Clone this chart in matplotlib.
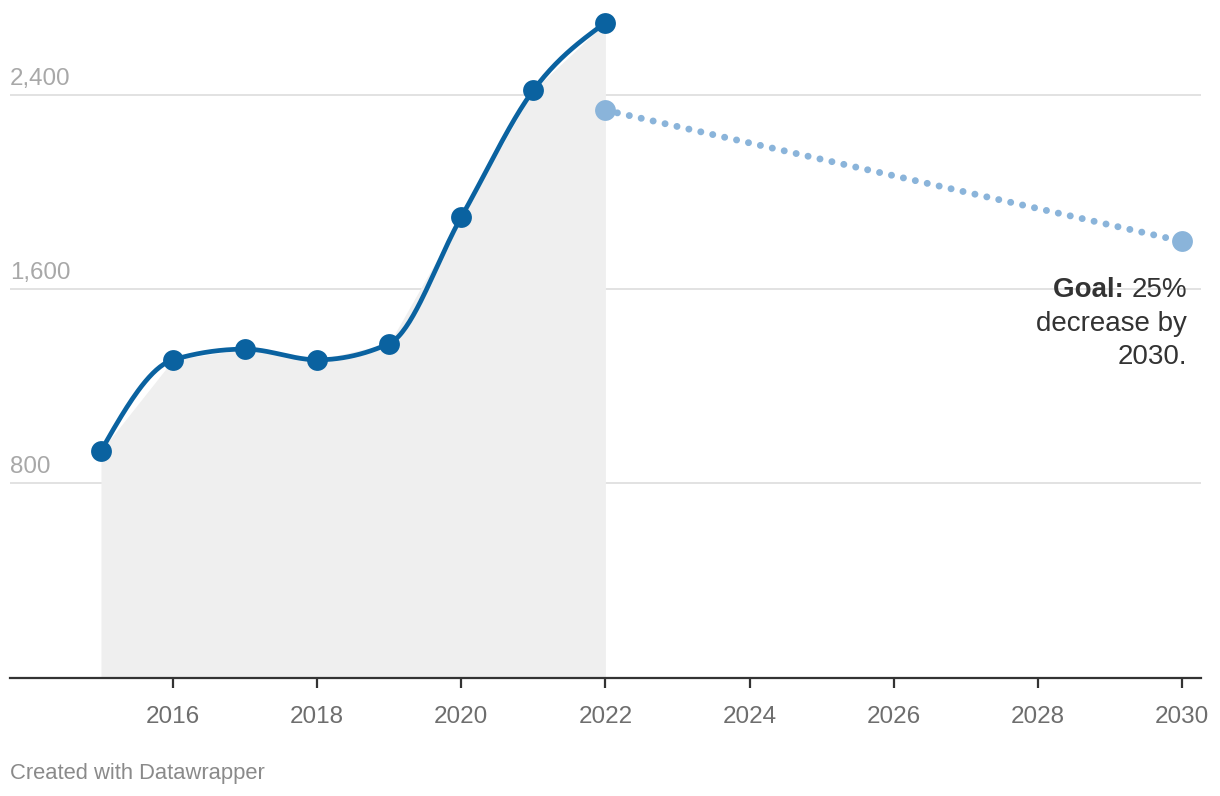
import numpy as np
import matplotlib
matplotlib.use("Agg")
import matplotlib.pyplot as plt

plt.rcParams['font.family'] = ['Liberation Sans', 'DejaVu Sans']

# data
years = [2015, 2016, 2017, 2018, 2019, 2020, 2021, 2022]
values = [933, 1308, 1352, 1308, 1375, 1896, 2418, 2696]
goal_years = [2022, 2030]
goal_values = [2336, 1796]
y_ticks = [800, 1600, 2400]
x_ticks = [2016, 2018, 2020, 2022, 2024, 2026, 2028, 2030]

LINE = '#0a62a0'
GOAL = '#8ab4da'


def monotone(x, y, n=40):
    # monotone-x curve (same slopes as d3.curveMonotoneX)
    x = np.asarray(x, float)
    y = np.asarray(y, float)
    h = np.diff(x)
    d = np.diff(y) / h
    m = np.zeros_like(y)
    for i in range(1, len(y) - 1):
        p = (d[i - 1] * h[i] + d[i] * h[i - 1]) / (h[i - 1] + h[i])
        m[i] = (np.sign(d[i - 1]) + np.sign(d[i])) * min(abs(d[i - 1]), abs(d[i]), 0.5 * abs(p))
    m[0] = (3 * d[0] - m[1]) / 2
    m[-1] = (3 * d[-1] - m[-2]) / 2
    xs, ys = [], []
    for i in range(len(x) - 1):
        t = np.linspace(0, 1, n)
        h00 = 2 * t**3 - 3 * t**2 + 1
        h10 = t**3 - 2 * t**2 + t
        h01 = -2 * t**3 + 3 * t**2
        h11 = t**3 - t**2
        xs.append(x[i] + t * h[i])
        ys.append(h00 * y[i] + h10 * h[i] * m[i] + h01 * y[i + 1] + h11 * h[i] * m[i + 1])
    return np.concatenate(xs), np.concatenate(ys)


fig = plt.figure(figsize=(12.2, 7.96), dpi=100)
ax = fig.add_axes([10 / 1220, 118.5 / 796, 1191 / 1220, 675.2 / 796])
ax.set_xlim(2013.738, 2030.264)
ax.set_ylim(0, 2780)

# grey area under the historic values
ax.fill_between(years, values, 0, color='#efefef', lw=0, zorder=1)

# gridlines + labels
for v in y_ticks:
    ax.axhline(v, color='#e2e2e2', lw=1.4, zorder=0)
    ax.annotate(f'{v:,}', xy=(0, v), xycoords=ax.get_yaxis_transform(),
                xytext=(0, 5), textcoords='offset pixels',
                ha='left', va='bottom', fontsize=17.4, color='#a8a8a8')

# goal line
ax.plot(goal_years, goal_values, color=GOAL, lw=5, linestyle=(0, (0.01, 1.75)),
        dash_capstyle='round', zorder=3)
ax.plot(goal_years, goal_values, 'o', color=GOAL, ms=15, mew=0, zorder=4)

# main series
cx, cy = monotone(years, values)
ax.plot(cx, cy, color=LINE, lw=3.4, solid_capstyle='round', zorder=5)
ax.plot(years, values, 'o', color=LINE, ms=15, mew=0, zorder=6)

for s in ['top', 'right', 'left']:
    ax.spines[s].set_visible(False)
ax.spines['bottom'].set_color('#333333')
ax.spines['bottom'].set_linewidth(1.6)
ax.set_yticks([])
ax.set_xticks(x_ticks)
ax.set_xticklabels([str(x) for x in x_ticks])
ax.tick_params(axis='x', length=7.5, width=1.6, color='#333333', pad=13,
               labelsize=17.5, labelcolor='#6e6e6e')

# annotation at the goal point
gx, gy = goal_years[-1], goal_values[-1]
fs = 20
t1 = ax.annotate('25%', xy=(gx, gy), xytext=(5, -49), textcoords='offset pixels',
                 ha='right', va='center', fontsize=fs, color='#333333')
fig.canvas.draw()
w = t1.get_window_extent().width
ax.annotate('Goal: ', xy=(gx, gy), xytext=(5 - w, -49), textcoords='offset pixels',
            ha='right', va='center', fontsize=fs, color='#333333', fontweight='bold')
ax.annotate('decrease by', xy=(gx, gy), xytext=(5, -83), textcoords='offset pixels',
            ha='right', va='center', fontsize=fs, color='#333333')
ax.annotate('2030.', xy=(gx, gy), xytext=(5, -116), textcoords='offset pixels',
            ha='right', va='center', fontsize=fs, color='#333333')

fig.text(10 / 1220, 1 - 774 / 796, 'Created with Datawrapper', ha='left', va='center',
         fontsize=15.8, color='#8a8a8a')

fig.savefig('out.png', dpi=100, facecolor='white')
